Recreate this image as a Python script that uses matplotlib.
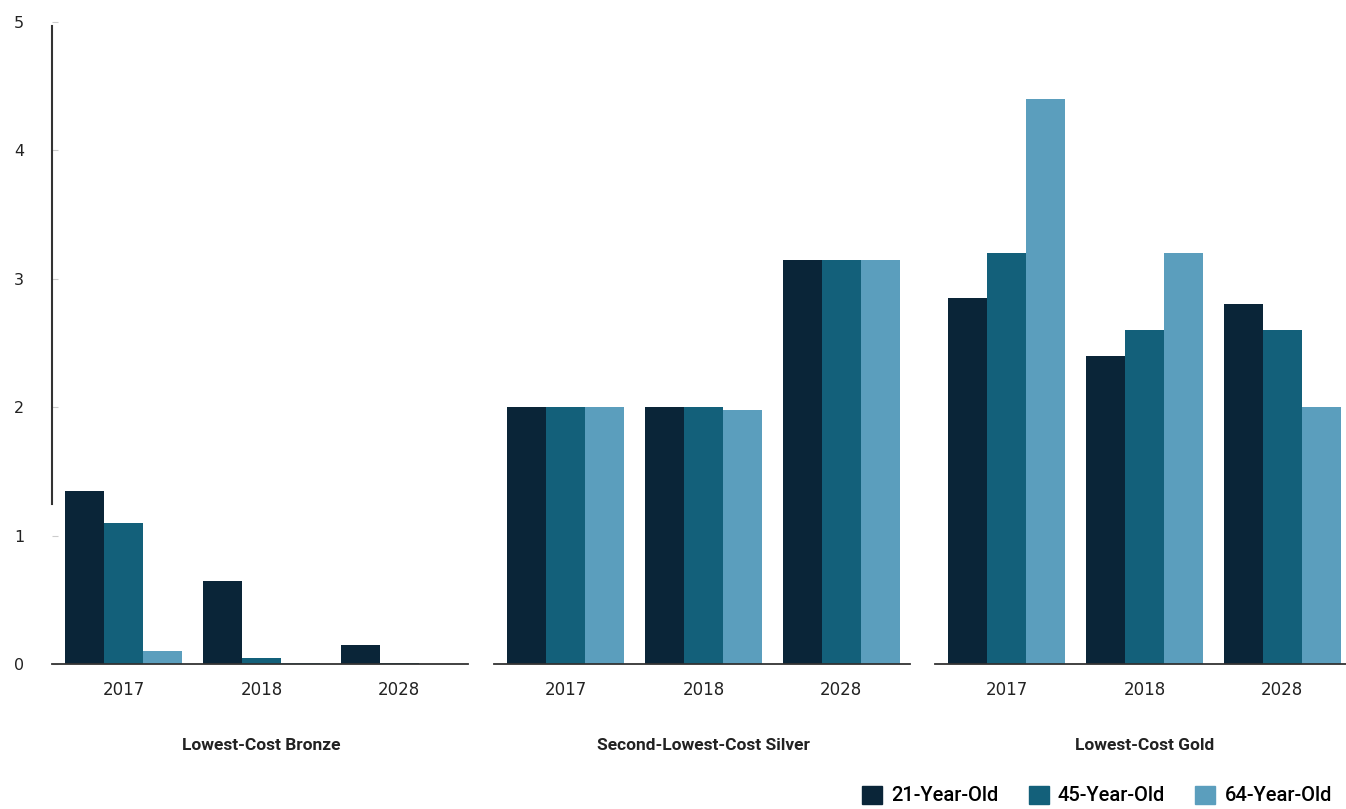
import matplotlib.pyplot as plt
import numpy as np
from matplotlib.patches import Patch

plt.rcParams['font.family'] = ['DejaVu Sans']

years = ['2017', '2018', '2028']
panels = ['Lowest-Cost Bronze', 'Second-Lowest-Cost Silver', 'Lowest-Cost Gold']
ages = ['21-Year-Old', '45-Year-Old', '64-Year-Old']

# values per panel, one list per age, across years
bronze = [[1.35, 0.65, 0.15],
          [1.10, 0.05, 0.01],
          [0.10, 0.01, 0.0]]
silver = [[2.0, 2.0, 3.15],
          [2.0, 2.0, 3.15],
          [2.0, 1.98, 3.15]]
gold = [[2.85, 2.4, 2.8],
        [3.2, 2.6, 2.6],
        [4.4, 3.2, 2.0]]

colors = ['#0a2538', '#13607a', '#5b9ebd']

fig = plt.figure(figsize=(13.46, 8.09), dpi=100)
lefts = [52 / 1346, 494 / 1346, 935 / 1346]
bottom = (809 - 664) / 809
height = (664 - 22) / 809
width = 416 / 1346
bw = 0.283

x = np.arange(len(years))
for p, data in enumerate([bronze, silver, gold]):
    ax = fig.add_axes([lefts[p], bottom, width, height])
    for k in range(3):
        ax.bar(x + (k - 1) * bw, data[k], width=bw, color=colors[k], linewidth=0)
    ax.set_xlim(-0.52, 2.5)
    ax.set_ylim(0, 5)
    ax.set_xticks(x)
    ax.set_xticklabels(years, fontsize=12, color='#222222')
    ax.tick_params(axis='x', length=0, pad=12)
    for s in ['top', 'right']:
        ax.spines[s].set_visible(False)
    ax.spines['bottom'].set_color('#333333')
    ax.spines['bottom'].set_linewidth(1.3)
    ax.text(1, -0.127, panels[p], transform=ax.get_xaxis_transform(), ha='center',
            va='center', fontsize=12.5, fontweight='bold', color='#222222',
            family='Roboto')
    if p == 0:
        ax.spines['left'].set_bounds(1.25, 4.97)
        ax.spines['left'].set_color('#333333')
        ax.spines['left'].set_linewidth(1.5)
        ax.set_yticks(range(6))
        ax.tick_params(axis='y', direction='in', length=4, color='#cccccc',
                       labelsize=11.5, pad=20, labelcolor='#222222')
    else:
        ax.spines['left'].set_visible(False)
        ax.set_yticks([])

handles = [Patch(color=c, label=a) for c, a in zip(colors, ages)]
fig.legend(handles=handles, ncol=3, loc='lower right', bbox_to_anchor=(1.003, -0.018),
           frameon=False, prop={'family': 'Roboto', 'size': 14.5, 'weight': 'medium'},
           handlelength=1.0, handleheight=1.0,
           handletextpad=0.45, columnspacing=1.5)

fig.savefig('out.png', dpi=100, facecolor='white')
